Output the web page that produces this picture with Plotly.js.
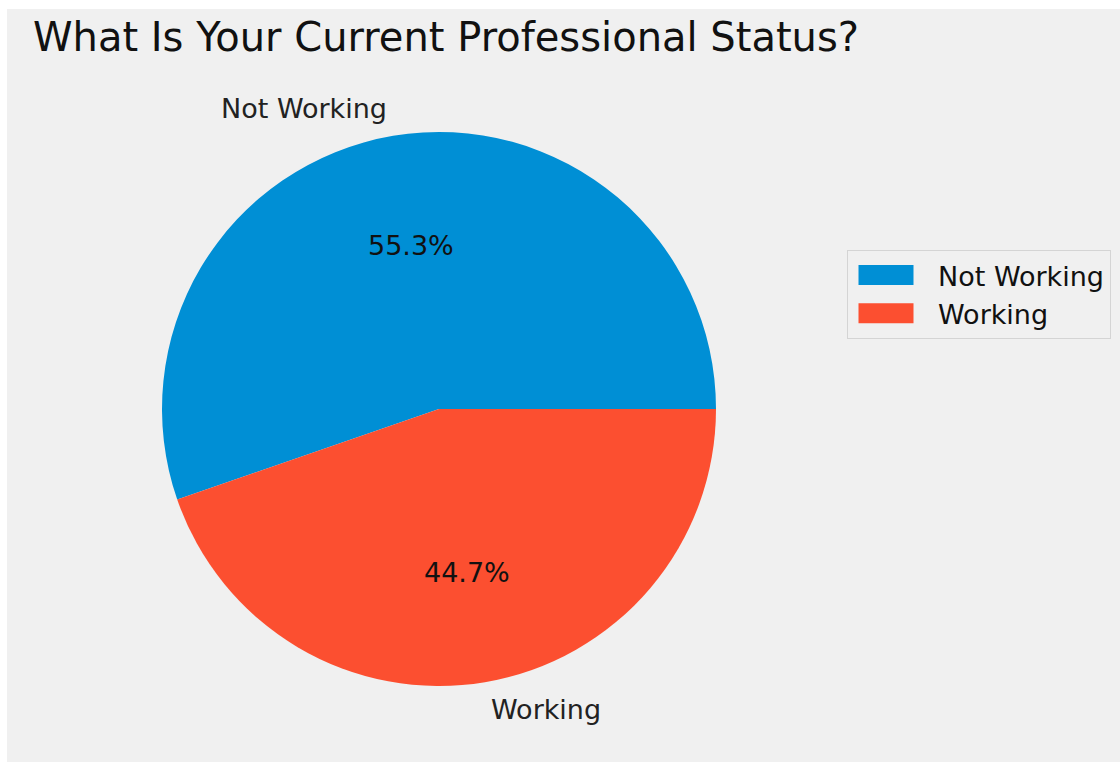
<!DOCTYPE html>
<html>
<head>
<meta charset="utf-8">
<script src="https://cdn.plot.ly/plotly-3.0.1.min.js"></script>
<style>
  html, body { margin: 0; padding: 0; background: #ffffff; }
  #chart { position: absolute; left: 7px; top: 9px; width: 1113px; height: 753px; }
</style>
</head>
<body>
<div id="chart"></div>
<script>
// Data
const chartTitle = "What Is Your Current Professional Status?";
const categories = ["Not Working", "Working"];
const shares = [55.3, 44.7];
const sliceColors = ["#008fd5", "#fc4f30"];

const FONT = "DejaVu Sans, Verdana, sans-serif";
const W = 1113, H = 753;
// pie geometry (pixels within the plot div)
const cx = 432, cy = 400, R = 277;
const domX = [(cx - R) / W, (cx + R) / W];
const domY = [(H - cy - R) / H, (H - cy + R) / H];

// first slice starts at 3 o'clock and runs counterclockwise
const total = shares.reduce(function (a, b) { return a + b; }, 0);
const startRotation = 90 - 360 * shares[0] / total;

const pieTrace = {
  type: "pie",
  labels: categories,
  values: shares,
  sort: false,
  direction: "counterclockwise",
  rotation: startRotation,
  domain: { x: domX, y: domY },
  marker: { colors: sliceColors, line: { width: 0 } },
  textinfo: "none",
  hoverinfo: "none",
  showlegend: true
};

// label placement like matplotlib: names at 1.1 R, percentages at 0.6 R
const annotations = [];
let cum = 0;
shares.forEach(function (v, i) {
  const mid = (cum + v / 2) / total * 2 * Math.PI; // CCW from 3 o'clock
  cum += v;
  const c = Math.cos(mid), s = Math.sin(mid);
  annotations.push({
    xref: "paper", yref: "paper",
    x: (cx + 1.1 * R * c) / W, y: (H - cy + 1.1 * R * s) / H,
    xanchor: c < 0 ? "right" : "left", yanchor: "middle",
    text: categories[i], showarrow: false,
    font: { family: FONT, size: 27, color: "#222222" }
  });
  annotations.push({
    xref: "paper", yref: "paper",
    x: (cx + 0.6 * R * c) / W, y: (H - cy + 0.6 * R * s) / H,
    xanchor: "center", yanchor: "middle",
    text: (100 * v / total).toFixed(1) + "%", showarrow: false,
    font: { family: FONT, size: 27, color: "#111111" }
  });
});

const layout = {
  width: W,
  height: H,
  paper_bgcolor: "#f0f0f0",
  plot_bgcolor: "#f0f0f0",
  margin: { l: 0, r: 0, t: 0, b: 0 },
  font: { family: FONT, color: "#111111" },
  title: {
    text: chartTitle,
    font: { family: FONT, size: 40, color: "#111111" },
    xref: "container", yref: "container",
    x: (33 - 7) / W, xanchor: "left",
    y: 1 - (37 - 9) / H, yanchor: "middle"
  },
  annotations: annotations,
  legend: {
    x: (847 - 7) / W, xanchor: "left",
    y: 1 - (250 - 9) / H, yanchor: "top",
    bgcolor: "#f0f0f0",
    bordercolor: "#d4d4d4",
    borderwidth: 1,
    itemwidth: 80,
    font: { family: FONT, size: 27, color: "#111111" }
  }
};

Plotly.newPlot("chart", [pieTrace], layout, { displayModeBar: false, staticPlot: true })
  .then(function (gd) {
    // widen legend swatches to resemble the reference's rectangular patches
    gd.querySelectorAll(".legend path.legendpie").forEach(function (p) {
      p.setAttribute("d", "M27.5,10H-27.5V-10H27.5Z");
      p.setAttribute("transform", "translate(38,0)");
    });
  });
</script>
</body>
</html>
